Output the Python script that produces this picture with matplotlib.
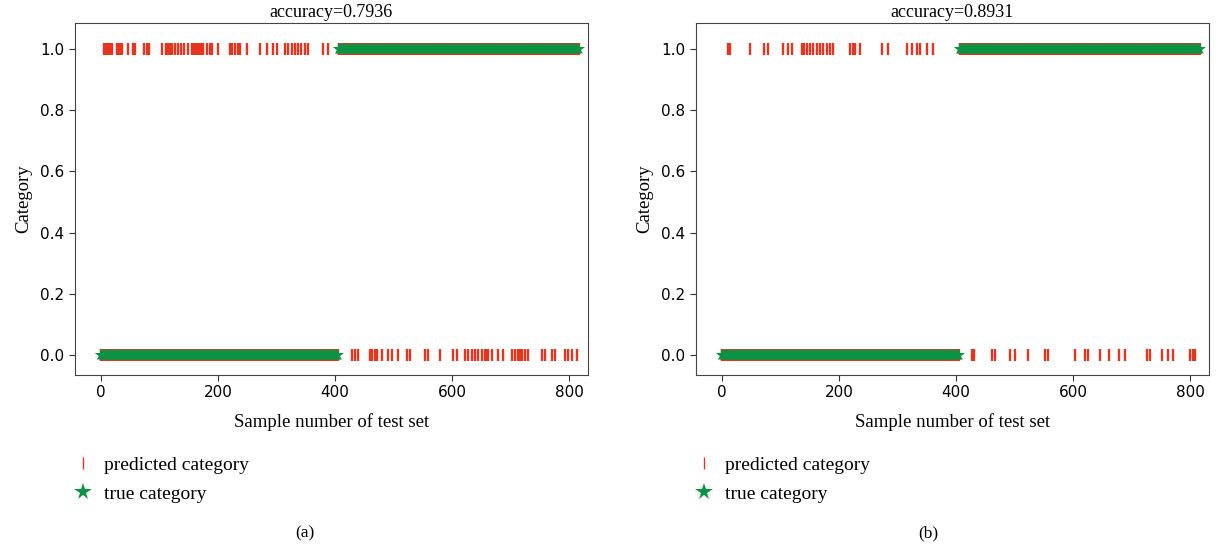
import matplotlib
matplotlib.use("Agg")
import matplotlib.pyplot as plt
from matplotlib.lines import Line2D
import numpy as np

# test set: first part is class 0, rest is class 1
n_samples = 817
boundary = 406

titles = ["accuracy=0.7936", "accuracy=0.8931"]
captions = ["(a)", "(b)"]

# misclassified sample indices
wrong_a = [5, 8, 11, 14, 17, 20, 27, 30, 33, 36, 46, 55, 58, 74, 79, 82, 104, 111, 114,
           118, 121, 126, 132, 137, 142, 149, 156, 159, 162, 165, 168, 171, 174, 181, 186,
           190, 200, 221, 224, 229, 234, 238, 250, 272, 284, 294, 301, 315, 320, 326, 332,
           337, 342, 349, 354, 380, 388,
           429, 434, 439, 460, 463, 468, 472, 480, 491, 497, 508, 523, 528, 554, 559, 579,
           602, 609, 622, 627, 634, 639, 644, 651, 656, 660, 662, 668, 679, 687, 703, 708,
           713, 716, 720, 725, 730, 754, 759, 771, 776, 793, 798, 805, 814]
wrong_b = [10, 14, 48, 72, 79, 104, 113, 120, 137, 140, 145, 150, 156, 162, 168, 173, 179,
           185, 190, 219, 224, 227, 236, 274, 284, 316, 325, 333, 338, 350, 361,
           427, 431, 462, 467, 492, 501, 523, 552, 557, 603, 621, 626, 646, 662, 679, 689,
           726, 732, 752, 762, 771, 800, 805, 808]

red = "#e8341c"
green = "#0b9444"
serif = "Liberation Serif"

x = np.arange(n_samples)
y_true = (x >= boundary).astype(int)

fig = plt.figure(figsize=(12.22, 5.44), dpi=100)
lefts = [75 / 1222, 696 / 1222]
cap_x = [305 / 1222, 928 / 1222]

# legend proxies (legend marks are drawn smaller/larger than in the plot)
h_pred = Line2D([], [], linestyle="none", marker="|", color=red,
                markersize=8, markeredgewidth=1.0, label="predicted category")
h_true = Line2D([], [], linestyle="none", marker="*", color=green,
                markersize=13, markeredgewidth=0, label="true category")

for k, wrong in enumerate([wrong_a, wrong_b]):
    y_pred = y_true.copy()
    y_pred[wrong] = 1 - y_pred[wrong]

    ax = fig.add_axes([lefts[k], 169 / 544, 513 / 1222, 352 / 544])
    ax.plot(x, y_pred, linestyle="none", marker="|", color=red,
            markersize=8.5, markeredgewidth=1.7)
    ax.plot(x, y_true, linestyle="none", marker="*", color=green,
            markersize=9, markeredgewidth=0)

    ax.set_xlim(-44, 832)
    ax.set_ylim(-0.065, 1.085)
    ax.set_xticks([0, 200, 400, 600, 800])
    ax.set_yticks([0.0, 0.2, 0.4, 0.6, 0.8, 1.0])
    ax.tick_params(labelsize=11, length=4, color="#333333")
    for s in ax.spines.values():
        s.set_color("#444444")

    ax.set_title(titles[k], fontsize=13, family=serif, pad=4)
    ax.set_xlabel("Sample number of test set", fontsize=13.5, family=serif, labelpad=9)
    ax.set_ylabel("Category", fontsize=13.5, family=serif, labelpad=6)

    ax.legend(handles=[h_pred, h_true], loc="upper left",
              bbox_to_anchor=(-0.022, -0.208), frameon=False,
              prop={"family": serif, "size": 14}, handlelength=1.2,
              handletextpad=0.45, labelspacing=0.62, borderaxespad=0)

    fig.text(cap_x[k], 11 / 544, captions[k], ha="center", va="center",
             fontsize=12.5, family=serif)

fig.savefig("out.png", dpi=100)
